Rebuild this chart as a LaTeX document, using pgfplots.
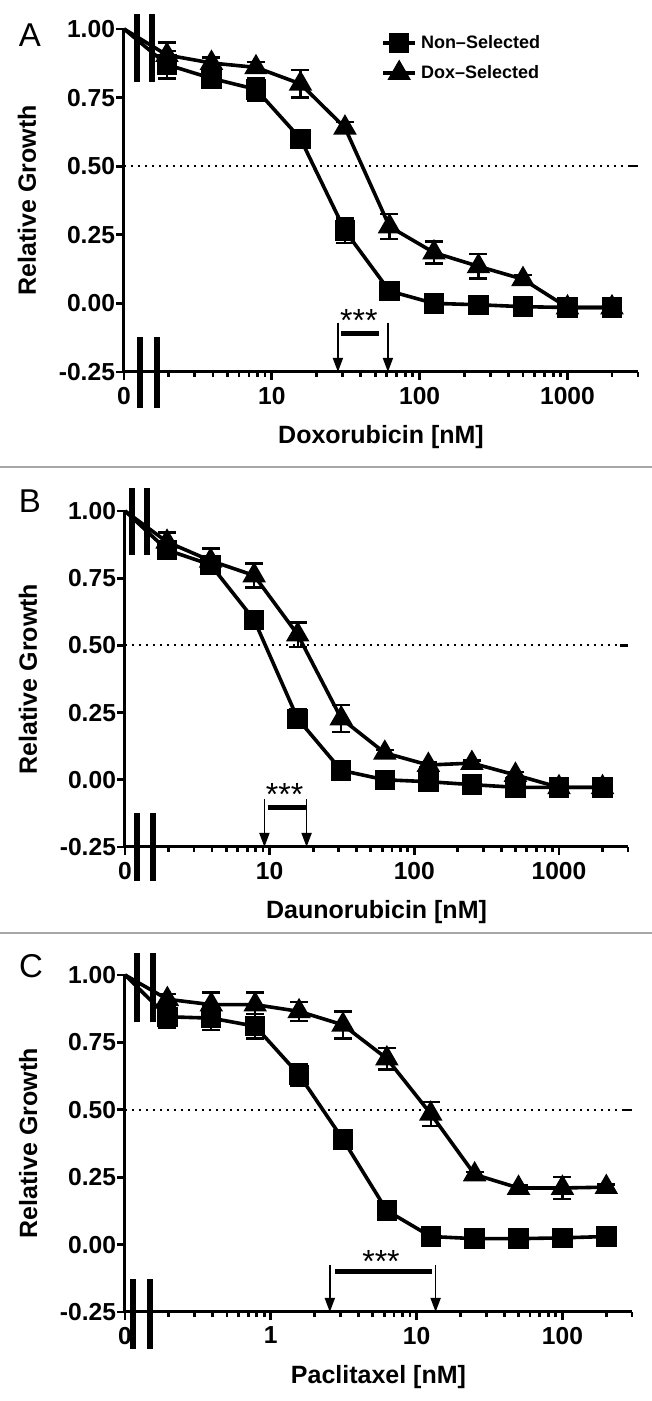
\documentclass[border=0pt]{standalone}
\usepackage{fontspec}
\setmainfont{Liberation Sans}
\usepackage{pgfplots}
\pgfplotsset{compat=1.18}
\usepackage{pgfplotstable}
\usetikzlibrary{arrows.meta}

% relative growth: x = concentration [nM], y = mean, e = error
\pgfplotstableread{
x y e
1.953 0.87 0.05
3.906 0.82 0.035
7.8125 0.78 0.04
15.625 0.60 0.02
31.25 0.265 0.045
62.5 0.045 0.01
125 0.0 0.01
250 -0.005 0.01
500 -0.012 0.01
1000 -0.015 0.01
2000 -0.015 0.01
}\nonA
\pgfplotstableread{
x y e
1.953 0.905 0.045
3.906 0.876 0.02
7.8125 0.86 0.02
15.625 0.80 0.05
31.25 0.64 0.02
62.5 0.28 0.045
125 0.185 0.04
250 0.135 0.045
500 0.088 0.015
1000 -0.015 0.01
2000 -0.015 0.01
}\doxA
\pgfplotstableread{
x y e
1.953 0.855 0.03
3.906 0.80 0.03
7.8125 0.595 0.02
15.625 0.227 0.035
31.25 0.035 0.02
62.5 0.0 0.01
125 -0.007 0.01
250 -0.018 0.01
500 -0.028 0.01
1000 -0.028 0.01
2000 -0.028 0.01
}\nonB
\pgfplotstableread{
x y e
1.953 0.885 0.035
3.906 0.815 0.045
7.8125 0.76 0.045
15.625 0.54 0.045
31.25 0.228 0.05
62.5 0.10 0.01
125 0.055 0.01
250 0.062 0.01
500 0.018 0.01
1000 -0.028 0.01
2000 -0.028 0.01
}\doxB
\pgfplotstableread{
x y e
0.1953 0.845 0.04
0.3906 0.84 0.045
0.78125 0.81 0.045
1.5625 0.63 0.04
3.125 0.39 0.02
6.25 0.126 0.01
12.5 0.03 0.01
25 0.022 0.01
50 0.022 0.01
100 0.025 0.01
200 0.03 0.01
}\nonC
\pgfplotstableread{
x y e
0.1953 0.91 0.02
0.3906 0.89 0.045
0.78125 0.89 0.045
1.5625 0.865 0.035
3.125 0.815 0.05
6.25 0.69 0.04
12.5 0.485 0.045
25 0.26 0.01
50 0.21 0.01
100 0.21 0.04
200 0.213 0.01
}\doxC

\pgfplotsset{
  panelstyle/.style={
    scale only axis,
    ymin=-0.25, ymax=1,
    axis x line=bottom, axis y line=left,
    axis line style={-, line width=1.5pt},
    tick align=outside,
    tick style={line width=1.4pt, black},
    major tick length=4pt, minor tick length=2.5pt,
    ytick={-0.25,0,0.25,0.5,0.75,1},
    yticklabels={-0.25,0.00,0.25,0.50,0.75,1.00},
    tick label style={font=\bfseries\fontsize{12.3}{12.3}\selectfont},
    yticklabel style={xshift=3pt},
    label style={font=\bfseries\fontsize{12.5}{14}\selectfont},
    ylabel={Relative Growth},
    clip=false,
  },
  ebar/.style={
    error bars/y dir=both, error bars/y explicit,
    error bars/error bar style={line width=1.2pt},
    error bars/error mark options={rotate=90, mark size=4.5pt, line width=1.2pt},
  },
  ns/.style={black, line width=1.8pt, mark=square*, mark size=4.2pt, mark options={solid}, ebar},
  ds/.style={black, line width=1.8pt, mark=triangle*, mark size=5pt, mark options={solid}, ebar},
  lead/.style={black, line width=1.8pt, no marks, forget plot},
}
\tikzset{
  brk/.style={line width=3.4pt, black},
  sig/.style={-{Triangle[width=5pt,length=7pt]}, line width=0.8pt},
  half/.style={dash pattern=on 1.1pt off 2.4pt, line width=1.1pt},
}

\begin{document}
\begin{tikzpicture}
\useasboundingbox (0,0) rectangle (326pt,700.5pt);

\draw[gray!70, line width=1pt] (0,467pt) -- (326pt,467pt);
\draw[gray!70, line width=1pt] (0,234pt) -- (326pt,234pt);

\node[font=\fontsize{16.5}{16.5}\selectfont] at (15pt,683pt) {A};
\node[font=\fontsize{16.5}{16.5}\selectfont] at (15pt,450pt) {B};
\node[font=\fontsize{16.5}{16.5}\selectfont] at (15.5pt,217.5pt) {C};

% ---------------- A
\begin{axis}[xmode=log, panelstyle,
  at={(62pt,514.5pt)}, anchor=south west,
  width=257pt, height=171.5pt,
  xmin=1, xmax=3000,
  xtick={1,10,100,1000}, xticklabels={0,10,100,1000},
  minor xtick={2,3,4,5,6,7,8,9,20,30,40,50,60,70,80,90,200,300,400,500,600,700,800,900,2000,3000},
  xlabel={Doxorubicin [nM]},
  xlabel style={at={(axis description cs:0.5,-0.19)}, anchor=center},
  ylabel style={at={(axis description cs:-0.189,0.5)}, anchor=center},
  reverse legend,
  legend style={at={(rel axis cs:0.50,0.995)}, anchor=north west, draw=none, fill=none,
    font=\bfseries\fontsize{9}{10}\selectfont, row sep=3pt, inner sep=0pt, cells={anchor=west}},
  legend image code/.code={\draw[#1, mark repeat=2, mark phase=2] plot coordinates {(0pt,0pt) (8pt,0pt) (16pt,0pt)};},
]
\draw[half] (axis cs:1,0.5) -- ([xshift=-4pt]axis cs:3000,0.5);
\draw[line width=1.2pt] ([xshift=-4pt]axis cs:3000,0.5) -- (axis cs:3000,0.5);
\addplot[lead] coordinates {(1,1) (1.953,0.905)};
\addplot[lead] coordinates {(1,1) (1.953,0.87)};
\addplot[ds] table[x=x, y=y, y error=e] {\doxA};
\addlegendentry{Dox\textendash Selected}
\addplot[ns] table[x=x, y=y, y error=e] {\nonA};
\addlegendentry{Non\textendash Selected}
\draw[brk] (axis cs:1.225,1.055) -- (axis cs:1.225,0.807);
\draw[brk] (axis cs:1.549,1.055) -- (axis cs:1.549,0.807);
\draw[brk] (axis cs:1.284,-0.124) -- (axis cs:1.284,-0.38);
\draw[brk] (axis cs:1.674,-0.124) -- (axis cs:1.674,-0.38);
\draw[sig] (axis cs:28,-0.07) -- (axis cs:28,-0.25);
\draw[sig] (axis cs:61,-0.07) -- (axis cs:61,-0.25);
\draw[line width=2.5pt] (axis cs:29.4,-0.108) -- (axis cs:53,-0.108);
\node[font=\fontsize{16}{16}\selectfont] at (axis cs:38.8,-0.062) {***};
\end{axis}

% ---------------- B
\begin{axis}[xmode=log, panelstyle,
  at={(62.5pt,277pt)}, anchor=south west,
  width=251.5pt, height=168pt,
  xmin=1, xmax=3000,
  xtick={1,10,100,1000}, xticklabels={0,10,100,1000},
  minor xtick={2,3,4,5,6,7,8,9,20,30,40,50,60,70,80,90,200,300,400,500,600,700,800,900,2000,3000},
  xlabel={Daunorubicin [nM]},
  xlabel style={at={(axis description cs:0.5,-0.194)}, anchor=center},
  ylabel style={at={(axis description cs:-0.193,0.5)}, anchor=center},
]
\draw[half] (axis cs:1,0.5) -- ([xshift=-4pt]axis cs:3000,0.5);
\draw[line width=1.2pt] ([xshift=-4pt]axis cs:3000,0.5) -- (axis cs:3000,0.5);
\addplot[lead] coordinates {(1,1) (1.953,0.885)};
\addplot[lead] coordinates {(1,1) (1.953,0.855)};
\addplot[ds] table[x=x, y=y, y error=e] {\doxB};
\addplot[ns] table[x=x, y=y, y error=e] {\nonB};
\draw[brk] (axis cs:1.117,1.086) -- (axis cs:1.117,0.836);
\draw[brk] (axis cs:1.418,1.086) -- (axis cs:1.418,0.836);
\draw[brk] (axis cs:1.21,-0.123) -- (axis cs:1.21,-0.377);
\draw[brk] (axis cs:1.56,-0.123) -- (axis cs:1.56,-0.377);
\draw[sig] (axis cs:9.2,-0.071) -- (axis cs:9.2,-0.25);
\draw[sig] (axis cs:18,-0.071) -- (axis cs:18,-0.25);
\draw[line width=2.5pt] (axis cs:9.7,-0.104) -- (axis cs:17.7,-0.104);
\node[font=\fontsize{16}{16}\selectfont] at (axis cs:12.7,-0.056) {***};
\end{axis}

% ---------------- C
\begin{axis}[xmode=log, panelstyle,
  at={(62.5pt,44.5pt)}, anchor=south west,
  width=253.5pt, height=168.5pt,
  xmin=0.1, xmax=300,
  xtick={0.1,1,10,100}, xticklabels={0,1,10,100},
  minor xtick={0.2,0.3,0.4,0.5,0.6,0.7,0.8,0.9,2,3,4,5,6,7,8,9,20,30,40,50,60,70,80,90,200,300},
  xlabel={Paclitaxel [nM]},
  xlabel style={at={(axis description cs:0.5,-0.193)}, anchor=center},
  ylabel style={at={(axis description cs:-0.191,0.5)}, anchor=center},
]
\draw[half] (axis cs:0.1,0.5) -- ([xshift=-4pt]axis cs:300,0.5);
\draw[line width=1.2pt] ([xshift=-4pt]axis cs:300,0.5) -- (axis cs:300,0.5);
\addplot[lead] coordinates {(0.1,1) (0.1953,0.91)};
\addplot[lead] coordinates {(0.1,1) (0.1953,0.845)};
\addplot[ds] table[x=x, y=y, y error=e] {\doxC};
\addplot[ns] table[x=x, y=y, y error=e] {\nonC};
\draw[brk] (axis cs:0.1209,1.081) -- (axis cs:0.1209,0.826);
\draw[brk] (axis cs:0.1557,1.081) -- (axis cs:0.1557,0.826);
\draw[brk] (axis cs:0.1135,-0.128) -- (axis cs:0.1135,-0.387);
\draw[brk] (axis cs:0.1485,-0.128) -- (axis cs:0.1485,-0.387);
\draw[sig] (axis cs:2.54,-0.075) -- (axis cs:2.54,-0.25);
\draw[sig] (axis cs:13.5,-0.075) -- (axis cs:13.5,-0.25);
\draw[line width=2.5pt] (axis cs:2.75,-0.1) -- (axis cs:12.7,-0.1);
\node[font=\fontsize{16}{16}\selectfont] at (axis cs:5.7,-0.063) {***};
\end{axis}
\end{tikzpicture}
\end{document}
